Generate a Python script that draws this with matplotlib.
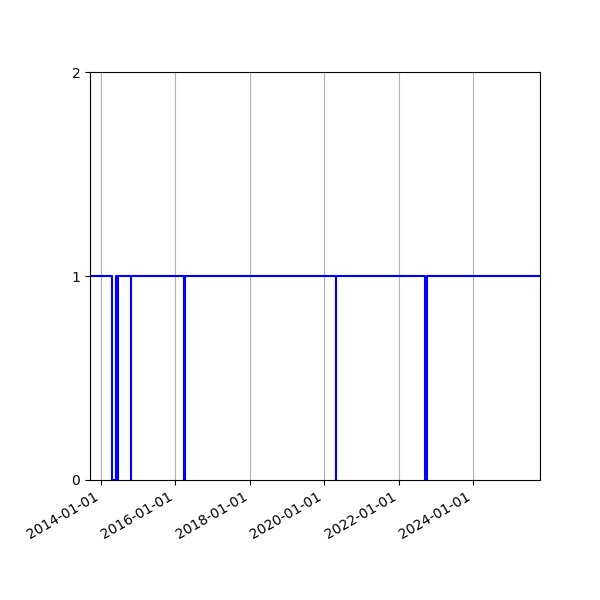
import pandas as pd
import matplotlib
matplotlib.use("Agg")
import matplotlib.pyplot as plt
import matplotlib.dates as mdates

# status changes (1 = up, 0 = down)
dates = ["2013-09-15", "2014-04-23", "2014-05-27", "2014-06-07", "2014-06-21",
         "2014-10-20", "2014-10-27", "2016-03-28", "2016-04-04",
         "2020-04-22", "2020-04-27", "2022-09-20", "2022-10-06", "2025-10-20"]
status = [1, 0, 1, 0, 1,
          0, 1, 0, 1,
          0, 1, 0, 1, 1]

df = pd.DataFrame({"date": pd.to_datetime(dates), "status": status})

fig, ax = plt.subplots(figsize=(6, 6), dpi=100)
ax.plot(df["date"], df["status"], color="blue", linewidth=1.5, drawstyle="steps-post")

ax.set_xlim(df["date"].iloc[0], df["date"].iloc[-1])
ax.set_ylim(0, 2)
ax.set_yticks([0, 1, 2])
ax.xaxis.set_major_locator(mdates.YearLocator(2))
ax.xaxis.set_major_formatter(mdates.DateFormatter("%Y-%m-%d"))
ax.grid(axis="x")

fig.autofmt_xdate()
fig.subplots_adjust(left=0.15, right=0.9, top=0.88, bottom=0.2)
fig.savefig("out.png")
